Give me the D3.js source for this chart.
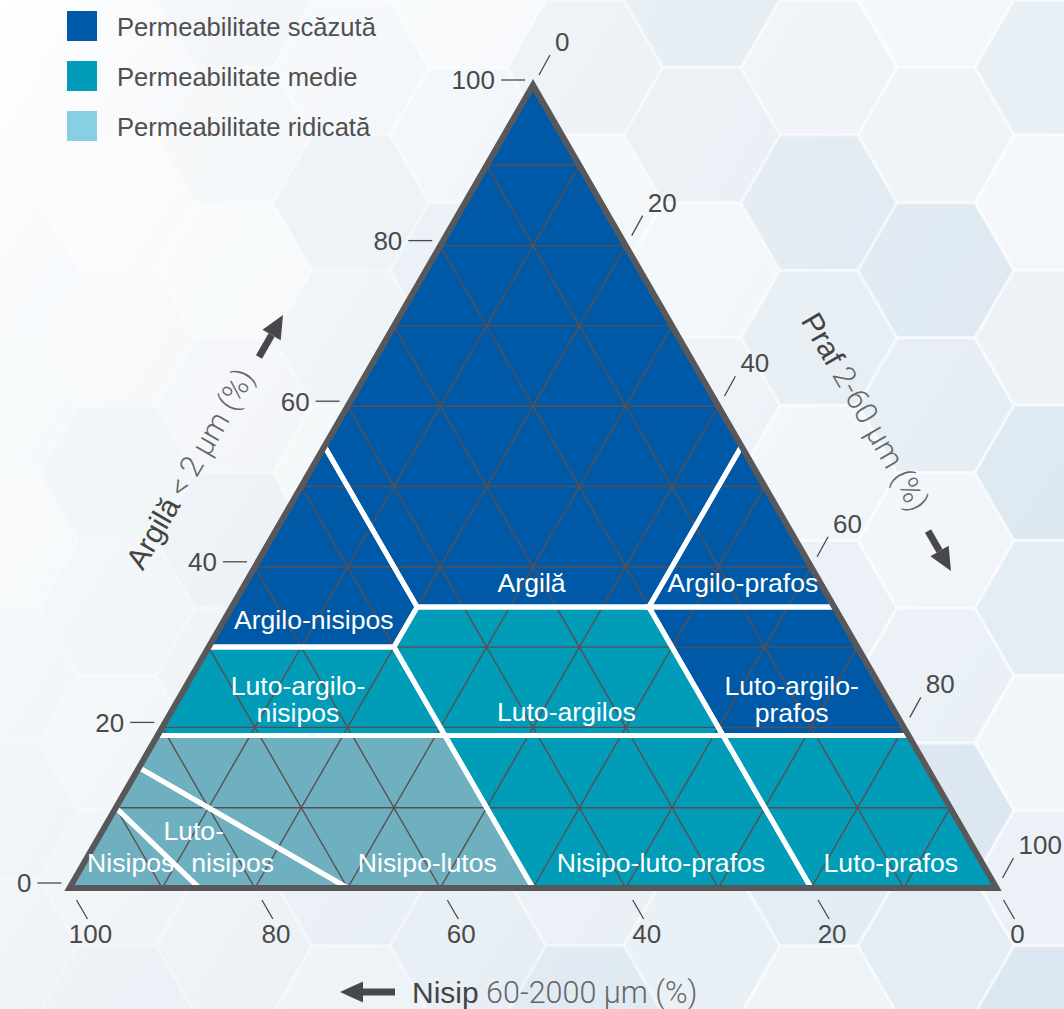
<!DOCTYPE html>
<html>
<head>
<meta charset="utf-8">
<script src="https://cdn.jsdelivr.net/npm/d3@7"></script>
<style>
  body { margin: 0; background: #fff; }
  svg { display: block; font-family: "Liberation Sans", Arial, sans-serif; }
</style>
</head>
<body>
<svg id="chart" width="1064" height="1009"></svg>
<script>
// axis ticks and grid
const ticks = [0, 20, 40, 60, 80, 100];
const gridSteps = [10, 20, 30, 40, 50, 60, 70, 80, 90];

// legend
const legendItems = ['Permeabilitate scăzută', 'Permeabilitate medie', 'Permeabilitate ridicată'];
const legendColors = ['#0059a6', '#009cb8', '#88cfe4'];
const fieldColors = ['#0059a6', '#009cb8', '#6fb0c0'];

// soil classes, vertices as [clay, sand] (silt = the rest)
const classNames = ['Argilă', 'Argilo-nisipos', 'Argilo-prafos', 'Luto-argilo-prafos', 'Luto-argilos',
  'Luto-argilo-nisipos', 'Nisipo-luto-prafos', 'Luto-prafos', 'Nisipo-lutos', 'Luto-nisipos', 'Nisipos'];
const classPerm = [0, 0, 0, 0, 1, 1, 1, 1, 2, 2, 2];
const classVertices = [
  [[100, 0], [55, 45], [35, 45], [35, 20], [55, 0]],
  [[55, 45], [30, 70], [30, 50], [35, 45]],
  [[55, 0], [35, 20], [35, 0]],
  [[35, 20], [35, 0], [19, 0], [19, 20]],
  [[35, 45], [35, 20], [19, 20], [19, 50], [30, 50]],
  [[30, 70], [19, 81], [19, 50], [30, 50]],
  [[19, 50], [19, 20], [0, 20], [0, 50]],
  [[19, 20], [19, 0], [0, 0], [0, 20]],
  [[19, 81], [19, 50], [0, 50], [0, 70], [15, 85]],
  [[15, 85], [0, 70], [0, 86], [10, 90]],
  [[10, 90], [0, 86], [0, 100]]
];

// label lines with anchor [clay, sand]
const labelTexts = ['Argilă', 'Argilo-nisipos', 'Argilo-prafos', 'Luto-argilo-', 'nisipos', 'Luto-argilos',
  'Luto-argilo-', 'prafos', 'Luto-', 'nisipos', 'Nisipos', 'Nisipo-lutos', 'Nisipo-luto-prafos', 'Luto-prafos'];
const labelAnchors = [[38.1, 31.1], [33.5, 56.9], [38.1, 8.3], [25.3, 62.7], [21.9, 64.4], [22.0, 35.4],
  [25.3, 9.45], [21.9, 11.15], [7.2, 83.0], [3.2, 80.8], [3.2, 91.8], [3.2, 59.8], [3.2, 34.6], [3.2, 9.8]];

const svg = d3.select('#chart');
const W = 1064, H = 1009;

// horizontal position is silt + clay/2, vertical is clay
const xs = d3.scaleLinear().domain([0, 100]).range([69.5, 996.5]);
const ys = d3.scaleLinear().domain([0, 100]).range([888, 85]);
const pt = (c, s) => [xs(100 - s - c / 2), ys(c)];

// background with pale hexagons
const defs = svg.append('defs');
const grad = defs.append('linearGradient').attr('id', 'bg')
  .attr('x1', 0).attr('y1', 0).attr('x2', 1).attr('y2', 0.6);
grad.append('stop').attr('offset', '0%').attr('stop-color', '#ffffff');
grad.append('stop').attr('offset', '45%').attr('stop-color', '#f1f5f8');
grad.append('stop').attr('offset', '100%').attr('stop-color', '#dfe9f2');
svg.append('rect').attr('width', W).attr('height', H).attr('fill', 'url(#bg)');

const hr = 78;
const hexPts = d3.range(6).map(k => [hr * Math.cos(k * Math.PI / 3), hr * Math.sin(k * Math.PI / 3)]);
const hexes = [];
for (let i = -1; i * hr * 1.5 < W + hr; i++) {
  for (let j = -1; j * hr * Math.sqrt(3) < H + hr; j++) {
    hexes.push({ x: i * hr * 1.5, y: j * hr * Math.sqrt(3) + (i % 2 ? hr * Math.sqrt(3) / 2 : 0), k: (i * 5 + j * 3 + 20) % 4 });
  }
}
svg.append('g').selectAll('path').data(hexes).join('path')
  .attr('transform', d => `translate(${d.x},${d.y})`)
  .attr('d', d3.line()(hexPts) + 'Z')
  .attr('fill', d => ['#ffffff', '#e8eff5', '#dbe6ef', '#f4f7fa'][d.k])
  .attr('fill-opacity', d => 0.08 + 0.5 * d.x / W)
  .attr('stroke', '#ffffff')
  .attr('stroke-opacity', d => 0.15 + 0.35 * d.x / W)
  .attr('stroke-width', 3);

// legend
const legend = svg.append('g');
legendItems.forEach((name, i) => {
  legend.append('rect').attr('x', 67).attr('y', 11 + i * 50).attr('width', 30).attr('height', 30)
    .attr('fill', legendColors[i]);
  legend.append('text').attr('x', 117).attr('y', 36 + i * 50)
    .attr('font-size', 25.6).attr('fill', '#505050').text(name);
});

// triangle fields
const tri = [pt(0, 100), pt(0, 0), pt(100, 0)];
defs.append('clipPath').attr('id', 'triClip').append('path').attr('d', d3.line()(tri) + 'Z');

const fields = classVertices.map((v, i) => ({ name: classNames[i], perm: classPerm[i], pts: v.map(p => pt(p[0], p[1])) }));
const plot = svg.append('g').attr('clip-path', 'url(#triClip)');
plot.selectAll('path.field').data(fields).join('path').attr('class', 'field')
  .attr('d', d => d3.line()(d.pts) + 'Z')
  .attr('fill', d => fieldColors[d.perm]);

// grid: constant clay, sand and silt lines
const gridLines = [];
gridSteps.forEach(k => {
  gridLines.push([pt(k, 100 - k), pt(k, 0)]);
  gridLines.push([pt(0, k), pt(100 - k, k)]);
  gridLines.push([pt(0, 100 - k), pt(100 - k, 0)]);
});
plot.append('g').selectAll('path').data(gridLines).join('path')
  .attr('d', d => d3.line()(d))
  .attr('stroke', '#5a4f50').attr('stroke-width', 1.4).attr('fill', 'none');

// white class boundaries
plot.append('g').selectAll('path').data(fields).join('path')
  .attr('d', d => d3.line()(d.pts) + 'Z')
  .attr('fill', 'none').attr('stroke', '#ffffff').attr('stroke-width', 5).attr('stroke-linejoin', 'miter');

// border
svg.append('path').attr('d', d3.line()(tri) + 'Z')
  .attr('fill', 'none').attr('stroke', '#58585a').attr('stroke-width', 6).attr('stroke-linejoin', 'miter');

// class labels
svg.append('g').selectAll('text').data(labelTexts).join('text')
  .attr('x', (d, i) => pt(...labelAnchors[i])[0])
  .attr('y', (d, i) => pt(...labelAnchors[i])[1])
  .attr('dy', '0.37em')
  .attr('text-anchor', 'middle')
  .attr('font-size', 26.6).attr('fill', '#ffffff')
  .text(d => d);

// ticks
const tickColor = '#4a4a4a';
const axes = svg.append('g').attr('font-size', 26).attr('fill', tickColor);
ticks.forEach(t => {
  // clay, left side
  const [lx, ly] = pt(t, 100 - t);
  axes.append('line').attr('x1', lx - 32).attr('x2', lx - 8).attr('y1', ly - 5).attr('y2', ly - 5)
    .attr('stroke', tickColor).attr('stroke-width', 1.3);
  axes.append('text').attr('x', lx - 38).attr('y', ly - 5).attr('dy', '0.36em')
    .attr('text-anchor', 'end').text(t);
  // silt, right side
  const [rx, ry] = pt(100 - t, 0);
  axes.append('line').attr('x1', rx + 6).attr('y1', ry - 10).attr('x2', rx + 17).attr('y2', ry - 30)
    .attr('stroke', tickColor).attr('stroke-width', 1.3);
  axes.append('text').attr('x', rx + 22).attr('y', ry - 34).text(t);
  // sand, bottom
  const [bx, by] = pt(0, t);
  axes.append('line').attr('x1', bx + 7).attr('y1', by + 12).attr('x2', bx + 18).attr('y2', by + 31)
    .attr('stroke', tickColor).attr('stroke-width', 1.3);
  axes.append('text').attr('x', bx + 21).attr('y', by + 55).attr('text-anchor', 'middle').text(t);
});

// axis titles
function arrow(x1, y1, x2, y2) {
  const a = Math.atan2(y2 - y1, x2 - x1);
  const hl = 23, hw = 10.5;
  const bx = x2 - hl * Math.cos(a), by = y2 - hl * Math.sin(a);
  svg.append('line').attr('x1', x1).attr('y1', y1).attr('x2', bx).attr('y2', by)
    .attr('stroke', '#48484a').attr('stroke-width', 7);
  svg.append('path').attr('fill', '#48484a').attr('d', d3.line()([
    [x2, y2],
    [bx + hw * Math.sin(a), by - hw * Math.cos(a)],
    [bx - hw * Math.sin(a), by + hw * Math.cos(a)]
  ]) + 'Z');
}

function title(x, y, rot, main, unit, anchor) {
  const t = svg.append('text').attr('transform', `translate(${x},${y}) rotate(${rot})`)
    .attr('text-anchor', anchor);
  t.append('tspan').attr('font-size', 30).attr('fill', '#444').text(main);
  t.append('tspan').attr('font-size', 30.5).attr('fill', '#666').attr('font-family', 'Roboto').attr('font-weight', 300).text(' ' + unit);
}

title(199, 474, -60, 'Argilă', '< 2 µm (%)', 'middle');
arrow(259, 357, 283, 315);
title(856, 417, 60, 'Praf', '2-60 µm (%)', 'middle');
arrow(928, 531, 951, 571);
title(412, 1003, 0, 'Nisip', '60-2000 µm (%)', 'start');
arrow(395, 992, 340, 992);
</script>
</body>
</html>
